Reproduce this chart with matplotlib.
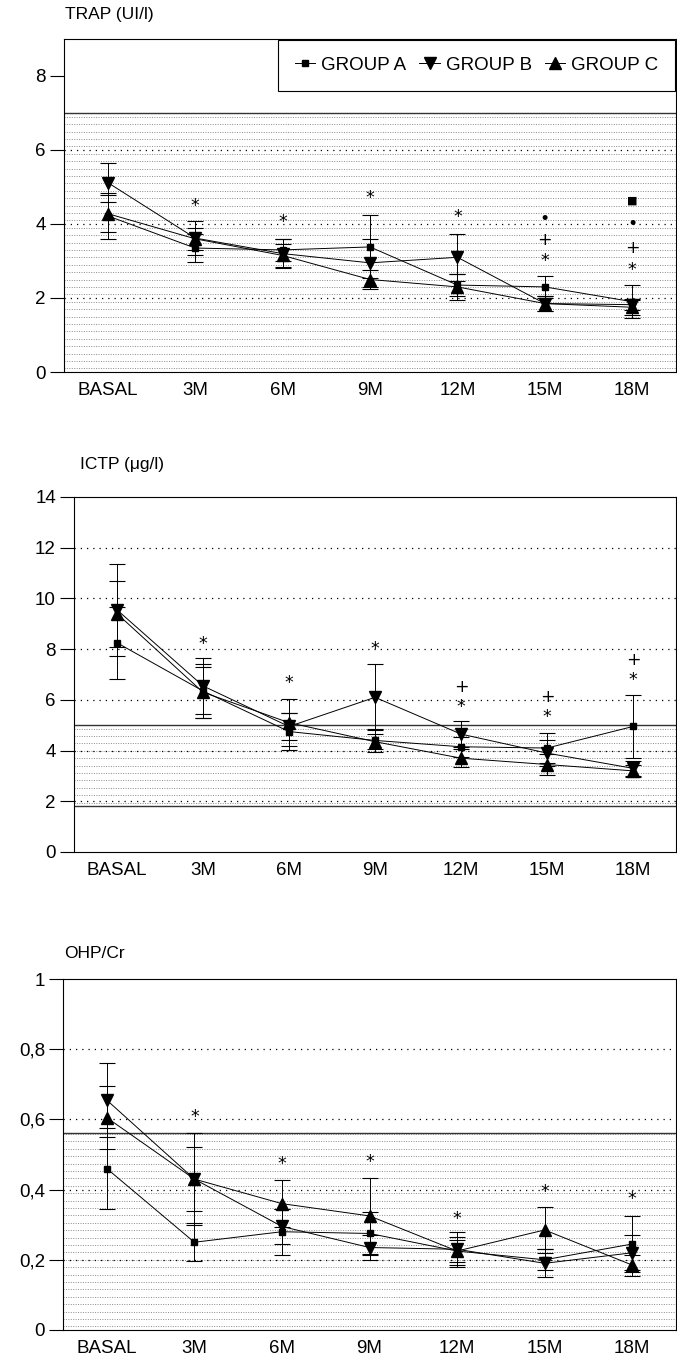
import numpy as np
import matplotlib
matplotlib.use("Agg")
from matplotlib import pyplot as plt, ticker

plt.rcParams['font.family'] = ['Liberation Sans', 'DejaVu Sans']

months = ["BASAL", "3M", "6M", "9M", "12M", "15M", "18M"]
groups = ["GROUP A", "GROUP B", "GROUP C"]

# TRAP (UI/l)
trap_a = [4.22, 3.35, 3.30, 3.38, 2.35, 2.30, 1.90]
trap_b = [5.12, 3.62, 3.20, 2.95, 3.10, 1.85, 1.82]
trap_c = [4.28, 3.60, 3.15, 2.50, 2.30, 1.85, 1.75]
trap_a_err = [0.62, 0.37, 0.30, 0.85, 0.30, 0.30, 0.45]
trap_b_err = [0.53, 0.45, 0.40, 0.65, 0.64, 0.20, 0.15]
trap_c_err = [0.50, 0.30, 0.30, 0.25, 0.35, 0.20, 0.20]
trap_marks = [(1, 4.53, "*"), (2, 4.12, "*"), (3, 4.75, "*"), (4, 4.23, "*"),
              (5, 4.20, "•"), (5, 3.63, "+"), (5, 3.05, "*"),
              (6, 4.66, "■"), (6, 4.05, "•"), (6, 3.40, "+"), (6, 2.80, "*")]

# ICTP (ug/l)
ictp_a = [8.25, 6.35, 4.75, 4.40, 4.15, 4.10, 4.95]
ictp_b = [9.55, 6.55, 4.95, 6.10, 4.65, 3.90, 3.30]
ictp_c = [9.40, 6.30, 5.10, 4.35, 3.70, 3.45, 3.20]
ictp_a_err = [1.42, 1.05, 0.73, 0.45, 0.40, 0.60, 1.25]
ictp_b_err = [1.82, 1.10, 0.55, 1.30, 0.50, 0.50, 0.30]
ictp_c_err = [1.30, 1.00, 0.93, 0.30, 0.35, 0.40, 0.25]
ictp_marks = [(1, 8.28, "*"), (2, 6.73, "*"), (3, 8.08, "*"),
              (4, 6.60, "+"), (4, 5.80, "*"), (5, 6.18, "+"), (5, 5.40, "*"),
              (6, 7.65, "+"), (6, 6.85, "*")]

# OHP/Cr
ohp_a = [0.460, 0.250, 0.280, 0.275, 0.225, 0.200, 0.245]
ohp_b = [0.655, 0.430, 0.295, 0.235, 0.230, 0.190, 0.220]
ohp_c = [0.605, 0.430, 0.360, 0.325, 0.225, 0.285, 0.185]
ohp_a_err = [0.115, 0.054, 0.065, 0.060, 0.040, 0.030, 0.080]
ohp_b_err = [0.105, 0.130, 0.050, 0.035, 0.050, 0.040, 0.050]
ohp_c_err = [0.090, 0.090, 0.067, 0.108, 0.030, 0.065, 0.030]
ohp_marks = [(1, 0.612, "*"), (2, 0.480, "*"), (3, 0.483, "*"), (4, 0.322, "*"),
             (5, 0.398, "*"), (6, 0.378, "*")]

# normal ranges (shaded)
trap_range = (0, 7)
ictp_range = (1.8, 5)
ohp_range = (0, 0.56)

W, H = 677, 1359
fig = plt.figure(figsize=(W / 100, H / 100), dpi=100)


def box(left, top, right, bottom):
    return [left / W, 1 - bottom / H, (right - left) / W, (bottom - top) / H]


panels = [
    dict(rect=box(64, 39, 676, 372), title="TRAP (UI/l)", tx=65, ty=15,
         series=(trap_a, trap_b, trap_c), errs=(trap_a_err, trap_b_err, trap_c_err),
         marks=trap_marks, band=trap_range, ylim=(0, 9), yticks=[0, 2, 4, 6, 8],
         fmt=lambda v: f"{v:g}", legend=True),
    dict(rect=box(74, 497, 676, 852), title="ICTP (μg/l)", tx=80, ty=465,
         series=(ictp_a, ictp_b, ictp_c), errs=(ictp_a_err, ictp_b_err, ictp_c_err),
         marks=ictp_marks, band=ictp_range, ylim=(0, 14), yticks=[0, 2, 4, 6, 8, 10, 12, 14],
         fmt=lambda v: f"{v:g}", legend=False),
    dict(rect=box(63, 979, 676, 1330), title="OHP/Cr", tx=64, ty=953,
         series=(ohp_a, ohp_b, ohp_c), errs=(ohp_a_err, ohp_b_err, ohp_c_err),
         marks=ohp_marks, band=ohp_range, ylim=(0, 1), yticks=[0, 0.2, 0.4, 0.6, 0.8, 1],
         fmt=lambda v: f"{v:g}".replace(".", ","), legend=False),
]

markers = ["s", "v", "^"]
msizes = [5, 8, 8]
x = np.arange(len(months))

for p in panels:
    ax = fig.add_axes(p["rect"])
    ax.set_xlim(-0.5, len(months) - 0.5)
    ax.set_ylim(*p["ylim"])

    # shaded normal range: fine dotted gray lines
    lo, hi = p["band"]
    px_per_unit = p["rect"][3] * H / (p["ylim"][1] - p["ylim"][0])
    step = 7.4 / px_per_unit
    for yy in np.arange(lo + step / 2, hi, step):
        ax.axhline(yy, color="#8a8a8a", lw=0.7, ls=(0, (1, 1.5)), zorder=0)
    for yy in (lo, hi):
        if yy > p["ylim"][0]:
            ax.axhline(yy, color="#333333", lw=1.0, zorder=1)

    # major dotted grid
    for yy in p["yticks"][1:-1]:
        ax.axhline(yy, color="black", lw=0.9, ls=(0, (1, 4)), zorder=1)

    handles = []
    for vals, err, m, ms, g in zip(p["series"], p["errs"], markers, msizes, groups):
        eb = ax.errorbar(x, vals, yerr=err, color="black", lw=0.7, elinewidth=0.7,
                         capsize=6, capthick=0.8, marker=m, ms=ms, mfc="black",
                         mec="black", zorder=3)
        handles.append(eb.lines[0])

    for i, yy, s in p["marks"]:
        fs = 8 if s == "■" else 12.5
        ax.text(x[i], yy, s, ha="center", va="center_baseline", fontsize=fs,
                color="black", family=["DejaVu Sans"], zorder=4)

    ax.set_xticks(x)
    ax.set_xticklabels(months, fontsize=13.5)
    ax.tick_params(axis="x", length=0, pad=7)
    ax.set_yticks(p["yticks"])
    ax.yaxis.set_major_formatter(ticker.FuncFormatter(lambda v, _, f=p["fmt"]: f(v)))
    ax.tick_params(axis="y", length=10, width=0.8, labelsize=13.5, pad=3)
    for s in ax.spines.values():
        s.set_linewidth(0.8)

    fig.text(p["tx"] / W, 1 - p["ty"] / H, p["title"], fontsize=12.5, ha="left", va="center")

    if p["legend"]:
        leg = ax.legend(handles, groups, loc="upper right", ncol=3, fontsize=13.5,
                        frameon=True, fancybox=False, borderaxespad=0.05,
                        handlelength=1.1, handletextpad=0.3, columnspacing=0.7,
                        borderpad=0.9, edgecolor="black", framealpha=1)
        leg.get_frame().set_linewidth(0.8)

fig.savefig("out.png", dpi=100)
